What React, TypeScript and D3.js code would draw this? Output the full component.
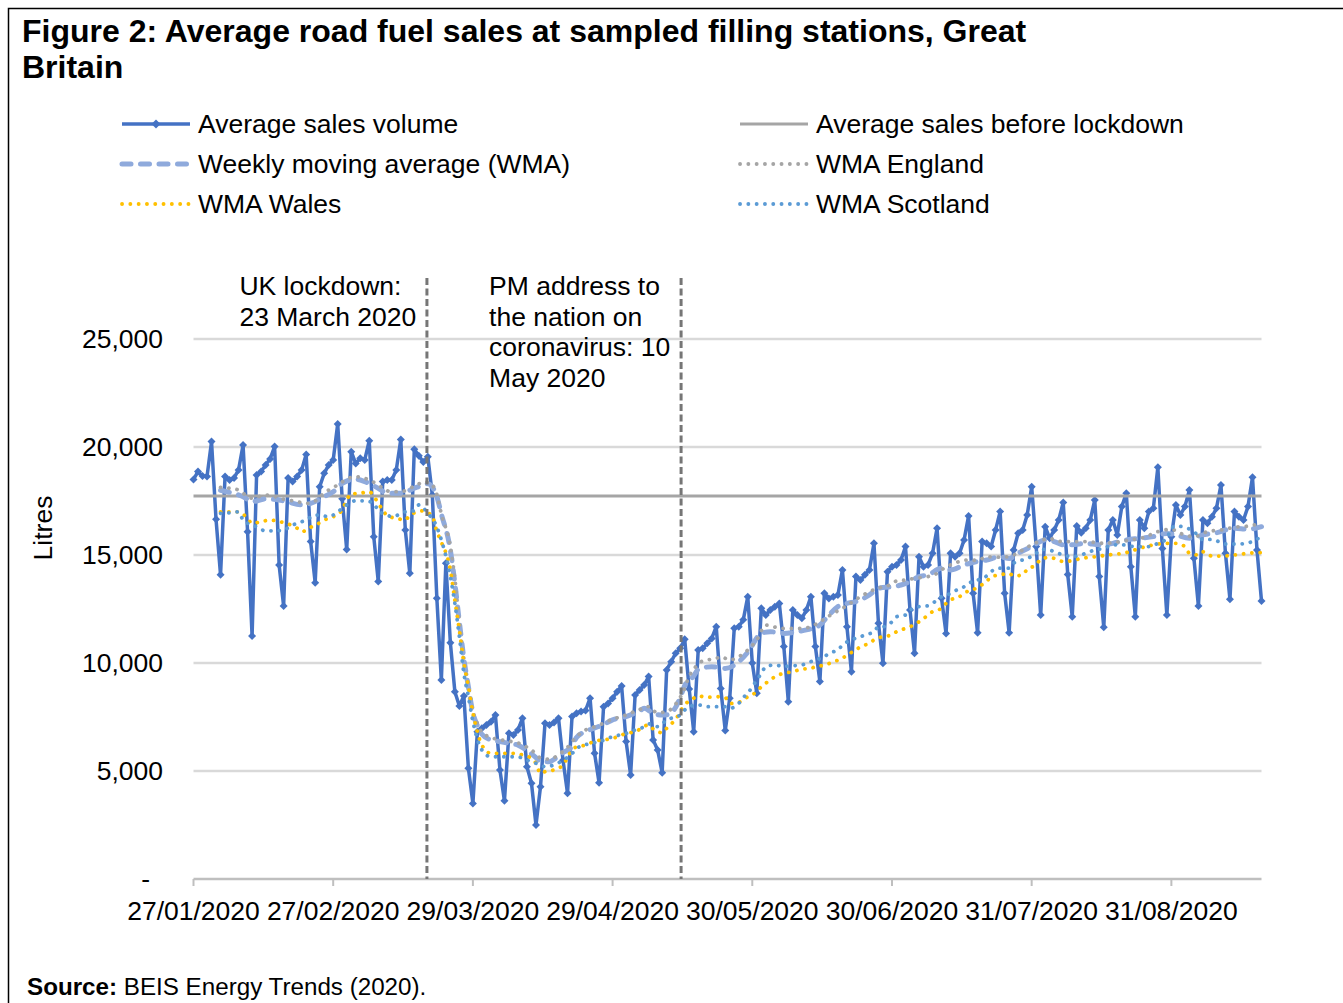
import React, { useEffect, useRef } from "react";
import * as d3 from "d3";

// Daily values, Monday 27/01/2020 to Sunday 20/09/2020 (7 per row = one week)
const salesVolume = [
  18500, 18860, 18660, 18630, 20250, 16650, 14080,
  18630, 18470, 18570, 18940, 20090, 16080, 11250,
  18700, 18860, 19170, 19450, 20020, 14540, 12640,
  18570, 18400, 18630, 18940, 19650, 15620, 13720,
  18160, 18780, 19170, 19400, 21070, 17600, 15250,
  19780, 19240, 19480, 19400, 20290, 15850, 13770,
  18400, 18470, 18470, 18940, 20350, 16160, 14150,
  19900, 19600, 19300, 19550, 17780, 13000, 9210,
  14620, 10940, 8670, 8010, 8470, 5130, 3500,
  6820, 6980, 7130, 7280, 7590, 5050, 3620,
  6750, 6670, 6900, 7440, 5200, 4430, 2500,
  4270, 7210, 7130, 7250, 7440, 5500, 3970,
  7520, 7670, 7750, 7800, 8370, 5820, 4460,
  7980, 8130, 8370, 8670, 8940, 6360, 4820,
  8520, 8750, 8980, 9370, 6440, 5970, 4920,
  9680, 10060, 10450, 10680, 11100, 8800, 6820,
  10600, 10680, 10910, 11140, 11680, 8820, 6870,
  8370, 11610, 11680, 12000, 13070, 10000, 8600,
  12530, 12220, 12450, 12600, 12760, 10760, 8210,
  12450, 12220, 12070, 12450, 13070, 10760, 9140,
  13230, 12990, 13070, 13150, 14310, 11680, 9600,
  14000, 13840, 14080, 14310, 15540, 11840, 9990,
  14230, 14460, 14540, 14770, 15390, 12450, 10450,
  14920, 14460, 14540, 15080, 16240, 13000, 11370,
  15080, 14920, 15080, 15700, 16810, 13230, 11400,
  15620, 15540, 15390, 16160, 17010, 13230, 11400,
  15230, 16010, 16160, 16850, 18160, 15390, 12220,
  16310, 15770, 16160, 16620, 17430, 14100, 12140,
  16340, 16030, 16240, 16620, 17550, 14000, 11650,
  16160, 16620, 15930, 17240, 17860, 14460, 12140,
  16620, 16240, 17010, 17160, 19060, 15300, 12220,
  15850, 17320, 16850, 17240, 18010, 14850, 12640,
  16620, 16470, 16770, 17160, 18240, 15080, 12950,
  17010, 16770, 16620, 17240, 18600, 15230, 12870,
];

const avgBeforeLockdown = 17730;

// [day index, value]
const wmaAll = [
  [6, 18000], [8, 17900], [11, 17700], [13, 17470], [16, 17600], [19, 17550], [21, 17450],
  [24, 17320], [26, 17390], [29, 17700], [31, 17930], [33, 18320], [36, 18510], [38, 18400],
  [41, 18090], [43, 17860], [46, 17860], [49, 18090], [51, 18240], [52, 18300], [54, 17700],
  [55, 16900], [57, 15230], [58, 13690], [59, 11900], [60, 10200], [61, 8900], [62, 7700],
  [63, 7100], [64, 6700], [66, 6440], [68, 6360], [70, 6280], [72, 6200], [74, 5950],
  [76, 5620], [77, 5430], [79, 5430], [80, 5540], [82, 5850], [84, 6150], [85, 6550],
  [87, 6820], [89, 6990], [91, 7150], [93, 7370], [95, 7460], [97, 7600], [99, 7780],
  [100, 7900], [102, 7670], [104, 7590], [105, 7600], [107, 7950], [108, 8400], [109, 8950],
  [111, 9400], [112, 9700], [115, 9830], [118, 9750], [121, 10060], [123, 10500], [126, 11370],
  [128, 11450], [131, 11370], [134, 11450], [136, 11530], [139, 11760], [141, 12220], [143, 12610],
  [145, 12760], [147, 12840], [150, 13150], [152, 13460], [155, 13530], [157, 13610], [159, 13770],
  [161, 14000], [163, 14080], [166, 14390], [168, 14310], [171, 14540], [174, 14700], [176, 14770],
  [179, 14920], [181, 14840], [183, 15080], [186, 15390], [189, 15700], [191, 15620], [193, 15470],
  [195, 15470], [198, 15540], [201, 15470], [204, 15540], [207, 15700], [210, 15770], [213, 15850],
  [216, 16000], [218, 15930], [221, 15770], [224, 15930], [227, 16030], [231, 16240], [234, 16190],
  [237, 16310],
];

const wmaEngland = [
  [6, 18130], [8, 18090], [10, 18010], [11, 17860], [13, 17630], [15, 17730], [17, 17780],
  [19, 17630], [21, 17550], [23, 17470], [25, 17390], [27, 17500], [28, 17700], [30, 18010],
  [32, 18240], [34, 18510], [36, 18630], [37, 18600], [39, 18470], [41, 18240], [42, 18090],
  [44, 17930], [46, 17930], [48, 18090], [50, 18290], [51, 18400], [52, 18350], [53, 18240],
  [54, 17800], [55, 16900], [57, 15400], [58, 13900], [59, 11900], [60, 10200], [61, 9000],
  [62, 7800], [63, 7200], [64, 6800], [66, 6550], [68, 6450], [70, 6380], [72, 6300],
  [74, 6100], [76, 5800], [77, 5600], [79, 5550], [81, 5750], [83, 6100], [85, 6590],
  [87, 6900], [89, 7050], [91, 7210], [93, 7400], [95, 7520], [97, 7680], [99, 7850],
  [101, 7980], [102, 7800], [103, 7700], [105, 7750], [107, 8100], [109, 8830], [110, 9400],
  [111, 9680], [112, 9990], [114, 10140], [116, 10210], [117, 10290], [119, 10140], [121, 10290],
  [123, 10600], [125, 11070], [127, 11760], [128, 11710], [131, 11600], [135, 11600], [137, 11680],
  [139, 11910], [142, 12300], [144, 12530], [146, 12800], [148, 13070], [150, 13300], [153, 13530],
  [155, 13650], [156, 13800], [158, 13840], [160, 13920], [163, 14000], [165, 14150], [166, 14310],
  [168, 14540], [172, 14770], [174, 14750], [176, 14920], [178, 14900], [181, 14920], [182, 15000],
  [184, 15230], [186, 15470], [188, 15660], [190, 15770], [191, 15700], [193, 15620], [195, 15620],
  [198, 15620], [202, 15540], [205, 15600], [208, 15700], [211, 15820], [214, 16080], [217, 16190],
  [219, 16000], [222, 15850], [225, 16080], [228, 16160], [231, 16280], [234, 16340], [237, 16470],
];

const wmaWales = [
  [6, 17000], [8, 17000], [10, 17000], [12, 16690], [13, 16460], [15, 16540], [17, 16620],
  [19, 16550], [21, 16440], [23, 16240], [24, 16080], [26, 16280], [28, 16490], [29, 16620],
  [31, 16770], [33, 17090], [34, 17550], [35, 17830], [37, 17860], [39, 17930], [40, 17730],
  [41, 17390], [42, 17090], [43, 16810], [45, 16700], [47, 16620], [48, 16850], [50, 17000],
  [51, 17050], [52, 16950], [53, 16800], [54, 16100], [55, 15600], [57, 14310], [58, 12900],
  [59, 11500], [60, 10000], [61, 8900], [62, 7700], [63, 6800], [64, 6200], [66, 5820],
  [69, 5820], [71, 5820], [73, 5740], [75, 5590], [76, 5350], [77, 4890], [78, 4970],
  [80, 5050], [82, 5280], [84, 5970], [85, 6120], [87, 6200], [89, 6380], [91, 6440],
  [93, 6510], [96, 6740], [98, 6820], [101, 7130], [102, 6950], [104, 6770], [105, 6980],
  [107, 7400], [109, 8060], [111, 8370], [112, 8470], [114, 8410], [116, 8440], [118, 8400],
  [119, 8130], [120, 8130], [122, 8290], [123, 8440], [125, 8670], [126, 8900], [128, 9210],
  [129, 9370], [131, 9520], [133, 9600], [135, 9710], [137, 9750], [138, 9830], [140, 9900],
  [142, 10060], [144, 10210], [145, 10370], [147, 10600], [148, 10760], [150, 10910], [151, 11070],
  [153, 11220], [155, 11300], [156, 11450], [158, 11600], [159, 11680], [161, 11910], [163, 12220],
  [164, 12380], [166, 12530], [167, 12760], [168, 12920], [170, 13070], [171, 13250], [173, 13380],
  [174, 13530], [176, 13760], [177, 14000], [179, 14080], [181, 14150], [182, 14030], [184, 14080],
  [185, 14340], [187, 14540], [188, 14800], [190, 14890], [191, 14840], [193, 14700], [195, 14740],
  [197, 14840], [200, 14920], [203, 15000], [207, 15110], [210, 15310], [213, 15470], [216, 15540],
  [218, 15540], [220, 15390], [221, 15080], [223, 15000], [224, 15150], [226, 14950], [228, 14950],
  [231, 15000], [234, 15080], [237, 15110],
];

const wmaScotland = [
  [6, 16930], [8, 16950], [10, 17000], [11, 16620], [14, 16310], [16, 16120], [18, 16120],
  [20, 16160], [22, 16390], [24, 16540], [25, 16620], [27, 16850], [28, 16850], [30, 16770],
  [32, 17000], [34, 17320], [36, 17510], [38, 17510], [40, 17390], [41, 17050], [43, 16850],
  [44, 16770], [47, 17000], [49, 17050], [50, 17320], [52, 16930], [54, 16300], [55, 15700],
  [57, 14000], [58, 12760], [59, 11220], [60, 9520], [61, 8440], [62, 7300], [64, 5970],
  [66, 5660], [68, 5660], [70, 5660], [72, 5660], [73, 5590], [75, 5430], [77, 5280],
  [78, 5200], [80, 5280], [82, 5500], [84, 5800], [85, 6040], [88, 6270], [90, 6360],
  [93, 6590], [96, 6740], [98, 6900], [100, 7050], [101, 7180], [103, 7050], [105, 7360],
  [108, 7590], [109, 7820], [110, 7980], [112, 8060], [114, 7980], [116, 7980], [118, 7980],
  [119, 7900], [121, 8130], [122, 8400], [123, 8600], [124, 8900], [125, 9210], [126, 9520],
  [127, 9830], [129, 9910], [131, 9830], [132, 9860], [135, 9910], [136, 9990], [138, 10140],
  [140, 10290], [141, 10450], [143, 10600], [144, 10830], [146, 11070], [148, 11220], [149, 11300],
  [151, 11450], [152, 11680], [153, 11680], [155, 11910], [156, 12140], [158, 12220], [159, 12450],
  [161, 12610], [163, 12650], [165, 12920], [166, 13070], [168, 13220], [169, 13340], [171, 13530],
  [172, 13690], [174, 13840], [176, 14030], [177, 14230], [179, 14390], [181, 14390], [182, 14620],
  [184, 14770], [185, 14840], [187, 15080], [188, 15260], [190, 15230], [191, 15150], [193, 15000],
  [195, 14920], [197, 15000], [198, 15080], [200, 15230], [202, 15310], [204, 15470], [206, 15470],
  [209, 15390], [212, 15390], [214, 15540], [216, 15770], [217, 16240], [218, 16340], [220, 16280],
  [222, 16080], [224, 15720], [226, 15720], [229, 15510], [232, 15510], [235, 15620], [237, 15880],
];

const xTickDays = [0, 31, 62, 93, 124, 155, 186, 217];
const xTickLabels = [
  "27/01/2020", "27/02/2020", "29/03/2020", "29/04/2020",
  "30/05/2020", "30/06/2020", "31/07/2020", "31/08/2020",
];
const yTicks = [0, 5000, 10000, 15000, 20000, 25000];

const titleLines = [
  "Figure 2: Average road fuel sales at sampled filling stations, Great",
  "Britain",
];

// events drawn as dashed verticals (day index as placed in the figure)
const events = [
  { day: 51.8, lines: ["UK lockdown:", "23 March 2020"] },
  { day: 108.2, lines: ["PM address to", "the nation on", "coronavirus: 10", "May 2020"] },
];

const FONT = "'Liberation Sans', Arial, Helvetica, sans-serif";
const BLUE = "#4472C4";

const App = () => {
  const svgRef = useRef(null);
  const width = 1343;
  const height = 1003;

  useEffect(() => {
    const svg = d3.select(svgRef.current);
    svg.selectAll("*").remove();
    svg.attr("font-family", FONT);

    const x = d3.scaleLinear()
      .domain([0, salesVolume.length - 1])
      .range([193.5, 1261.5]);
    const y = d3.scaleLinear()
      .domain([0, 25000])
      .range([879, 339]);

    // background + frame
    svg.append("rect")
      .attr("x", 0).attr("y", 0).attr("width", width).attr("height", height)
      .attr("fill", "white");
    svg.append("rect")
      .attr("x", 8.5).attr("y", 8.5).attr("width", width + 20).attr("height", height + 20)
      .attr("fill", "none").attr("stroke", "#000").attr("stroke-width", 1.5);

    // title
    titleLines.forEach((t, i) => {
      svg.append("text")
        .attr("x", 22)
        .attr("y", 42 + i * 36)
        .style("font-size", "32px")
        .style("font-weight", "bold")
        .text(t);
    });

    // gridlines
    svg.append("g")
      .selectAll("line")
      .data(yTicks.filter(v => v > 0))
      .enter()
      .append("line")
      .attr("x1", x(0)).attr("x2", x(salesVolume.length - 1))
      .attr("y1", d => y(d)).attr("y2", d => y(d))
      .attr("stroke", "#D9D9D9")
      .attr("stroke-width", 2.5);

    // x axis
    svg.append("line")
      .attr("x1", x(0)).attr("x2", x(salesVolume.length - 1))
      .attr("y1", y(0)).attr("y2", y(0))
      .attr("stroke", "#BFBFBF").attr("stroke-width", 2.5);
    svg.append("g")
      .selectAll("line")
      .data(xTickDays)
      .enter()
      .append("line")
      .attr("x1", d => x(d)).attr("x2", d => x(d))
      .attr("y1", y(0)).attr("y2", y(0) + 7)
      .attr("stroke", "#BFBFBF").attr("stroke-width", 2);
    svg.append("g")
      .selectAll("text")
      .data(xTickDays)
      .enter()
      .append("text")
      .attr("x", d => x(d))
      .attr("y", 920)
      .attr("text-anchor", "middle")
      .style("font-size", "26.5px")
      .text((d, i) => xTickLabels[i]);

    // y labels
    svg.append("g")
      .selectAll("text")
      .data(yTicks)
      .enter()
      .append("text")
      .attr("x", d => (d === 0 ? 150 : 163))
      .attr("y", d => y(d) + 9)
      .attr("text-anchor", "end")
      .style("font-size", "26.5px")
      .text(d => (d === 0 ? "-" : d3.format(",")(d)));

    svg.append("text")
      .attr("transform", `translate(52,528) rotate(-90)`)
      .attr("text-anchor", "middle")
      .style("font-size", "26.5px")
      .text("Litres");

    // series 1: average sales volume
    const line = d3.line<number>()
      .x((d, i) => x(i))
      .y(d => y(d));
    svg.append("path")
      .datum(salesVolume)
      .attr("d", line)
      .attr("fill", "none")
      .attr("stroke", BLUE)
      .attr("stroke-width", 3.5)
      .attr("stroke-linejoin", "round");
    const diamond = d3.symbol().type(d3.symbolSquare).size(32);
    svg.append("g")
      .selectAll("path")
      .data(salesVolume)
      .enter()
      .append("path")
      .attr("d", diamond)
      .attr("transform", (d, i) => `translate(${x(i)},${y(d)}) rotate(45)`)
      .attr("fill", BLUE);

    // series 2: average before lockdown
    svg.append("line")
      .attr("x1", x(0)).attr("x2", x(salesVolume.length - 1))
      .attr("y1", y(avgBeforeLockdown)).attr("y2", y(avgBeforeLockdown))
      .attr("stroke", "#A5A5A5").attr("stroke-width", 3);

    // smooth series
    const smooth = d3.line()
      .x(d => x(d[0]))
      .y(d => y(d[1]))
      .curve(d3.curveMonotoneX);
    const smoothSeries = [
      { data: wmaAll, color: "#8FAADC", width: 5, dash: "9,9.5" },
      { data: wmaEngland, color: "#A5A5A5", width: 3.8, dash: "0.1,8.2" },
      { data: wmaWales, color: "#FFC000", width: 3.8, dash: "0.1,8.2" },
      { data: wmaScotland, color: "#5B9BD5", width: 3.8, dash: "0.1,8.2" },
    ];
    smoothSeries.forEach(s => {
      svg.append("path")
        .datum(s.data)
        .attr("d", smooth)
        .attr("fill", "none")
        .attr("stroke", s.color)
        .attr("stroke-width", s.width)
        .attr("stroke-dasharray", s.dash)
        .attr("stroke-linecap", "round");
    });

    // event markers
    events.forEach((ev, k) => {
      svg.append("line")
        .attr("x1", x(ev.day)).attr("x2", x(ev.day))
        .attr("y1", 278).attr("y2", y(0))
        .attr("stroke", "#767676")
        .attr("stroke-width", 3)
        .attr("stroke-dasharray", "7,3.5");
      const tx = x(ev.day) - (k === 0 ? 187.5 : 192);
      ev.lines.forEach((t, i) => {
        svg.append("text")
          .attr("x", tx)
          .attr("y", 295 + i * 30.6)
          .style("font-size", "26.5px")
          .text(t);
      });
    });

    // legend
    const legendItems = [
      { label: "Average sales volume", col: 0, row: 0, color: BLUE, width: 3.5, dash: null, marker: true },
      { label: "Average sales before lockdown", col: 1, row: 0, color: "#A5A5A5", width: 3, dash: null, marker: false },
      { label: "Weekly moving average (WMA)", col: 0, row: 1, color: "#8FAADC", width: 5, dash: "9,9.5", marker: false },
      { label: "WMA England", col: 1, row: 1, color: "#A5A5A5", width: 3.8, dash: "0.1,8.2", marker: false },
      { label: "WMA Wales", col: 0, row: 2, color: "#FFC000", width: 3.8, dash: "0.1,8.2", marker: false },
      { label: "WMA Scotland", col: 1, row: 2, color: "#5B9BD5", width: 3.8, dash: "0.1,8.2", marker: false },
    ];
    const legend = svg.append("g").attr("class", "legend");
    legendItems.forEach(it => {
      const lx = it.col === 0 ? 122 : 740;
      const ly = 124 + it.row * 40;
      const row = legend.append("g").attr("transform", `translate(${lx},${ly})`);
      row.append("line")
        .attr("x1", 0).attr("x2", 68)
        .attr("y1", 0).attr("y2", 0)
        .attr("stroke", it.color)
        .attr("stroke-width", it.width)
        .attr("stroke-dasharray", it.dash)
        .attr("stroke-linecap", it.dash ? "round" : "butt");
      if (it.marker) {
        row.append("path")
          .attr("d", d3.symbol().type(d3.symbolSquare).size(40))
          .attr("transform", "translate(34,0) rotate(45)")
          .attr("fill", it.color);
      }
      row.append("text")
        .attr("x", 76)
        .attr("y", 9)
        .style("font-size", "26.5px")
        .text(it.label);
    });

    // source
    const src = svg.append("text")
      .attr("x", 27)
      .attr("y", 995)
      .style("font-size", "24.2px");
    src.append("tspan").style("font-weight", "bold").text("Source:");
    src.append("tspan").text(" BEIS Energy Trends (2020).");
  }, []);

  return (
    <div style={{ position: "absolute", left: 0, top: 0 }}>
      <svg ref={svgRef} width={width} height={height}></svg>
    </div>
  );
};

export default App;
